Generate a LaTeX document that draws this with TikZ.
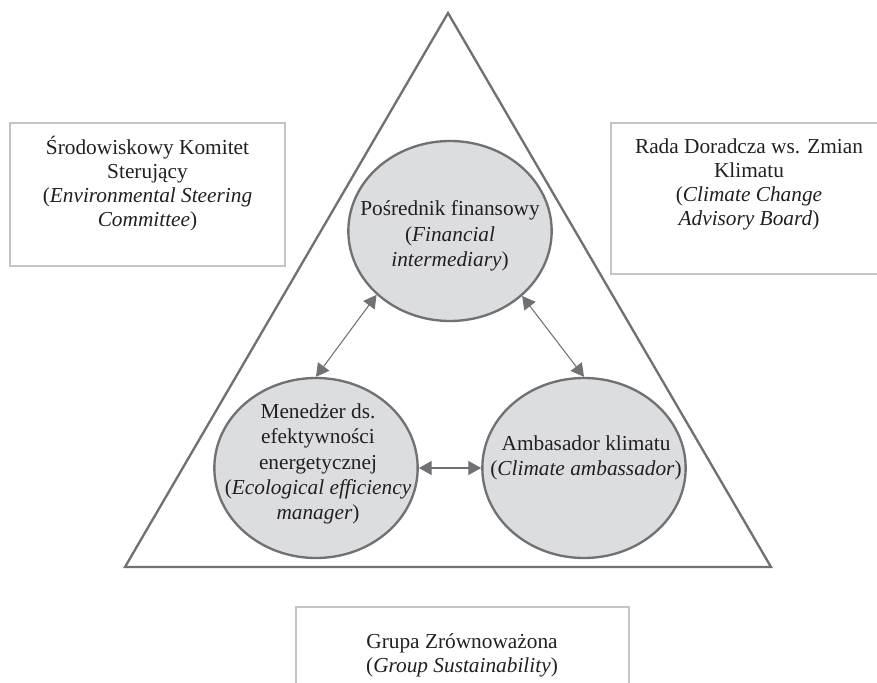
\documentclass[tikz,border=0pt]{standalone}
\usepackage{fontspec}
\setmainfont{Liberation Serif}
\usepackage{xcolor}
\usetikzlibrary{arrows.meta,shapes.geometric,positioning}
\definecolor{linegray}{HTML}{707174}
\definecolor{fillgray}{HTML}{DCDDDF}
\definecolor{boxgray}{HTML}{C4C4C4}
\definecolor{textblack}{HTML}{231F20}
\tikzset{%
	panel/.style   = {draw=boxgray, line width=1.5pt, rectangle, inner sep=0pt},
	role/.style    = {draw=linegray, fill=fillgray, line width=2pt, ellipse, minimum width=6.1cm, minimum height=5.4cm, inner sep=0pt},
	txt/.style     = {align=center, text=textblack, font=\fontsize{18.2}{20.5}\selectfont, inner sep=0pt},
	roletxt/.style = {txt, font=\fontsize{18.2}{21.6}\selectfont},
	link/.style    = {linegray, line width=0.9pt, {Triangle[length=11pt,width=12pt]}-{Triangle[length=11pt,width=12pt]}},
	pyramid/.style = {draw=linegray, line width=2pt, line join=miter},
}
\begin{document}
\begin{tikzpicture}[x=0.03cm,y=-0.03cm]
	\useasboundingbox (0,0) rectangle (877,683);
	\clip (0,0) rectangle (877,683);
	\draw[pyramid] (448,13) -- (771,567) -- (125,567) -- cycle;  % triangle
	% boxes outside the triangle
	\node[panel, minimum width=8.25cm, minimum height=4.29cm] (esc) at (147.5,194.5) {};
	\node[panel, minimum width=8.28cm, minimum height=4.53cm] (ccab) at (749,198.5) {};
	\node[panel, minimum width=9.99cm, minimum height=3.39cm] (gs) at (462.5,663.5) {};
	\node[txt] (esct) at (147.5,184) {Środowiskowy Komitet\\Sterujący\\(\textit{Environmental Steering}\\\textit{Committee})};
	\node[txt] (ccabt) at (749,184) {Rada Doradcza ws. Zmian\\Klimatu\\(\textit{Climate Change}\\\textit{Advisory Board})};
	\node[txt] (gst) at (462,655) {Grupa Zrównoważona\\(\textit{Group Sustainability})};
	% roles
	\node[role] (fin) at (450,231) {};
	\node[role] (eff) at (316,468) {};
	\node[role] (amb) at (584,468) {};
	\node[roletxt] (fint) at (450,236) {Pośrednik finansowy\\(\textit{Financial}\\\textit{intermediary})};
	\node[roletxt] (efft) at (318,464) {Menedżer ds.\\efektywności\\energetycznej\\(\textit{Ecological efficiency}\\\textit{manager})};
	\node[roletxt] (ambt) at (586,458) {Ambasador klimatu\\(\textit{Climate ambassador})};
	\draw[link] (fin.221) -- (eff.north);
	\draw[link] (fin.318) -- (amb.north);
	\draw[link] (eff.east) -- (amb.west);
\end{tikzpicture}
\end{document}
